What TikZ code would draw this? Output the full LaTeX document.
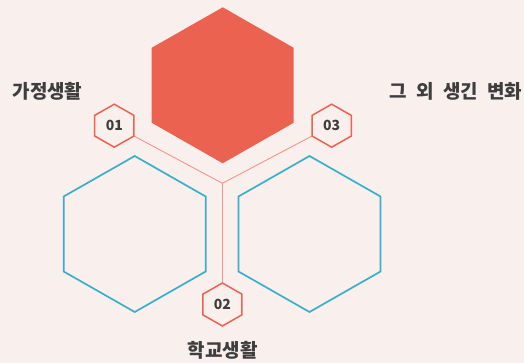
\documentclass[tikz,border=0pt]{standalone}
\usepackage{fontspec}
\newfontfamily\kr{Noto Sans CJK KR}
\usetikzlibrary{calc}
\definecolor{bg}{HTML}{F9F0EE}
\definecolor{hexred}{HTML}{EC6250}
\definecolor{linered}{HTML}{F4958A}
\definecolor{hexblue}{HTML}{3BAECA}
\definecolor{txt}{HTML}{3E3E3E}
\newcommand\wsp{\hspace{4.7pt} }
\tikzset{
  hexa/.pic={\path[pic actions] (0,-78)--(71,-37.5)--(71,37.5)--(0,78)--(-71,37.5)--(-71,-37.5)--cycle;},
  bighex/.style={fill=hexred},
  bluehex/.style={draw=hexblue,line width=1.7pt},
  smallhex/.style={draw=hexred,line width=1.5pt,scale=0.2756},
  conn/.style={draw=linered,line width=0.9pt},
  title/.style={font=\kr\bfseries\fontsize{19}{21}\selectfont,text=txt,inner sep=0pt},
  num/.style={font=\kr\bfseries\fontsize{14}{15}\selectfont,text=txt,inner sep=0pt}
}
\begin{document}
\begin{tikzpicture}[x=1pt,y=-1pt]
\fill[bg] (0,0) rectangle (524,363);
\useasboundingbox (0,0) rectangle (524,363);
% centres
\coordinate (big) at (222.7,85.3);
\coordinate (bl) at (134.7,234);
\coordinate (br) at (309.5,234);
\coordinate (h1) at (114.3,125.7);
\coordinate (h2) at (222.4,304.5);
\coordinate (h3) at (331.7,125.7);
\coordinate (j) at (222.4,183.3);
\coordinate (h1v) at ($(h1)+(19.6,10.3)$);
\coordinate (h3v) at ($(h3)+(-19.6,10.3)$);
\coordinate (h2v) at ($(h2)+(0,-21.5)$);
% connectors
\draw[conn] (h1v) -- (j);
\draw[conn] (h3v) -- (j);
\draw[conn] (j) -- (h2v);
% hexagons
\pic[bighex] at (big) {hexa};
\pic[bluehex] at (bl) {hexa};
\pic[bluehex] at (br) {hexa};
\pic[smallhex] at (h1) {hexa};
\pic[smallhex] at (h2) {hexa};
\pic[smallhex] at (h3) {hexa};
% numbers
\node[num] (n1) at (h1) {01};
\node[num] (n2) at (h2) {02};
\node[num] (n3) at (h3) {03};
% titles
\node[title] (t1) at (47.5,91.7) {가정생활};
\node[title] (t3) at (456,91.7) {그\wsp 외\wsp 생긴\wsp 변화};
\node[title] (t2) at (222.7,350) {학교생활};
\end{tikzpicture}
\end{document}
